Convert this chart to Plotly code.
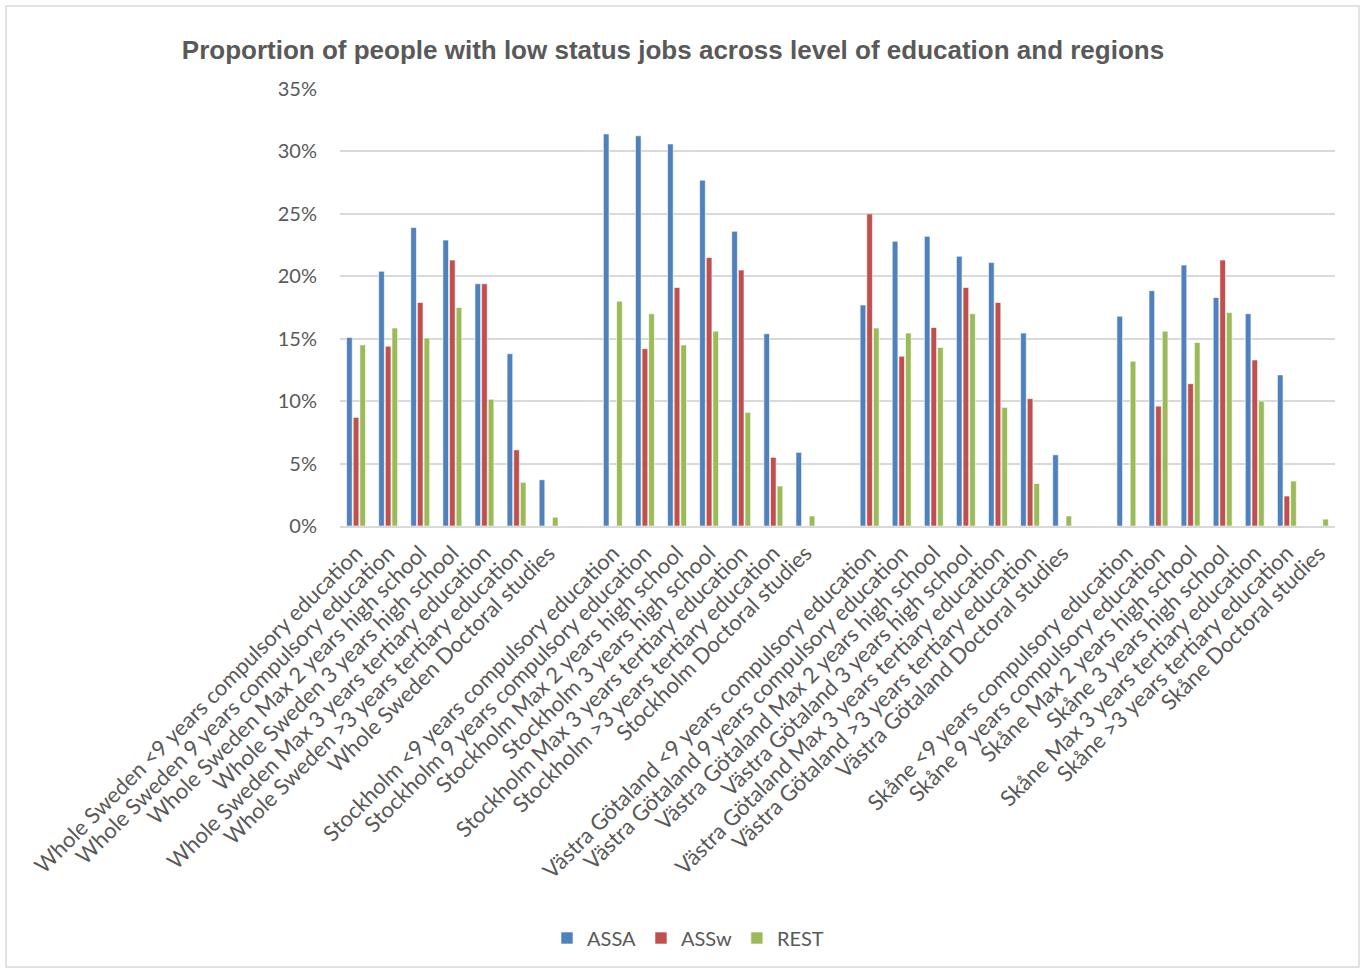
import plotly.graph_objects as go

# Education levels and regions
levels = [
    "<9 years compulsory education",
    "9 years compulsory education",
    "Max 2 years high school",
    "3 years high school",
    "Max 3 years tertiary education",
    ">3 years tertiary education",
    "Doctoral studies",
]
regions = ["Whole Sweden", "Stockholm", "Västra Götaland", "Skåne"]

# Category axis: each region's seven levels, separated by an empty slot
categories = []
for i, reg in enumerate(regions):
    categories += [f"{reg} {lvl}" for lvl in levels]
    if i < len(regions) - 1:
        categories.append(" " * (i + 1))

# Shares (%) per category, None = no bar / spacer slot
assa = [15.1, 20.4, 23.9, 22.9, 19.4, 13.8, 3.7, None,
        31.4, 31.25, 30.6, 27.7, 23.6, 15.4, 5.9, None,
        17.7, 22.8, 23.2, 21.6, 21.1, 15.45, 5.7, None,
        16.8, 18.85, 20.9, 18.3, 17.0, 12.1, None]
assw = [8.7, 14.4, 17.9, 21.3, 19.4, 6.1, None, None,
        None, 14.2, 19.1, 21.5, 20.5, 5.5, None, None,
        25.0, 13.6, 15.9, 19.1, 17.9, 10.2, None, None,
        None, 9.6, 11.4, 21.3, 13.3, 2.4, None]
rest = [14.5, 15.85, 15.05, 17.5, 10.15, 3.5, 0.7, None,
        18.0, 17.0, 14.5, 15.6, 9.1, 3.2, 0.8, None,
        15.85, 15.45, 14.3, 17.0, 9.5, 3.4, 0.8, None,
        13.2, 15.6, 14.7, 17.1, 10.0, 3.6, 0.55]

series = [("ASSA", assa, "#4F81BD"), ("ASSw", assw, "#C0504D"), ("REST", rest, "#9BBB59")]

W, H = 1365, 972
L, R, T, B = 340, 30, 89, 446
pw, ph = W - L - R, H - T - B

fig = go.Figure()
for name, vals, col in series:
    fig.add_trace(go.Bar(
        x=categories, y=vals, name=name,
        marker=dict(color=col, line=dict(color="white", width=0.6)),
    ))

font = "Lato, 'Open Sans', sans-serif"
grey = "#595959"

fig.update_layout(
    width=W, height=H,
    margin=dict(l=L, r=R, t=T, b=B, autoexpand=False),
    paper_bgcolor="white", plot_bgcolor="white",
    barmode="group", bargap=0.38, bargroupgap=0.15,
    title=dict(
        text="<b>Proportion of people with low status jobs across level of education and regions</b>",
        x=673 / W, xanchor="center", y=1 - 50 / H, yanchor="middle",
        font=dict(family="'Liberation Sans', Arial, sans-serif", size=26, color=grey),
    ),
    font=dict(family=font, color=grey, size=20),
    legend=dict(
        orientation="h", x=(688 - L) / pw, xanchor="center",
        y=-(938 - (T + ph)) / ph, yanchor="middle",
        font=dict(size=20, color=grey), itemwidth=30, tracegroupgap=0,
    ),
    showlegend=True,
)

fig.update_yaxes(
    range=[0, 35], dtick=5, ticksuffix="%",
    showgrid=True, gridcolor="#D9D9D9", gridwidth=1.5,
    zeroline=False, showline=False,
    ticks="outside", ticklen=18, tickcolor="rgba(0,0,0,0)",
    tickfont=dict(size=20, color=grey),
)
fig.update_xaxes(
    type="category", categoryorder="array", categoryarray=categories,
    tickangle=-45, showline=True, linecolor="#D9D9D9", linewidth=1.5,
    ticks="outside", ticklen=4, tickcolor="rgba(0,0,0,0)",
    tickfont=dict(size=22, color=grey), automargin=False,
)

# Thin frame around the whole chart
x0 = (6 - L) / pw
x1 = (1359 - L) / pw
y1 = (T + ph - 6) / ph
y0 = (T + ph - 967) / ph
fig.add_shape(type="rect", xref="paper", yref="paper", x0=x0, x1=x1, y0=y0, y1=y1,
              line=dict(color="#D9D9D9", width=1.5), fillcolor="rgba(0,0,0,0)", layer="below")

fig.write_html("out.html")
